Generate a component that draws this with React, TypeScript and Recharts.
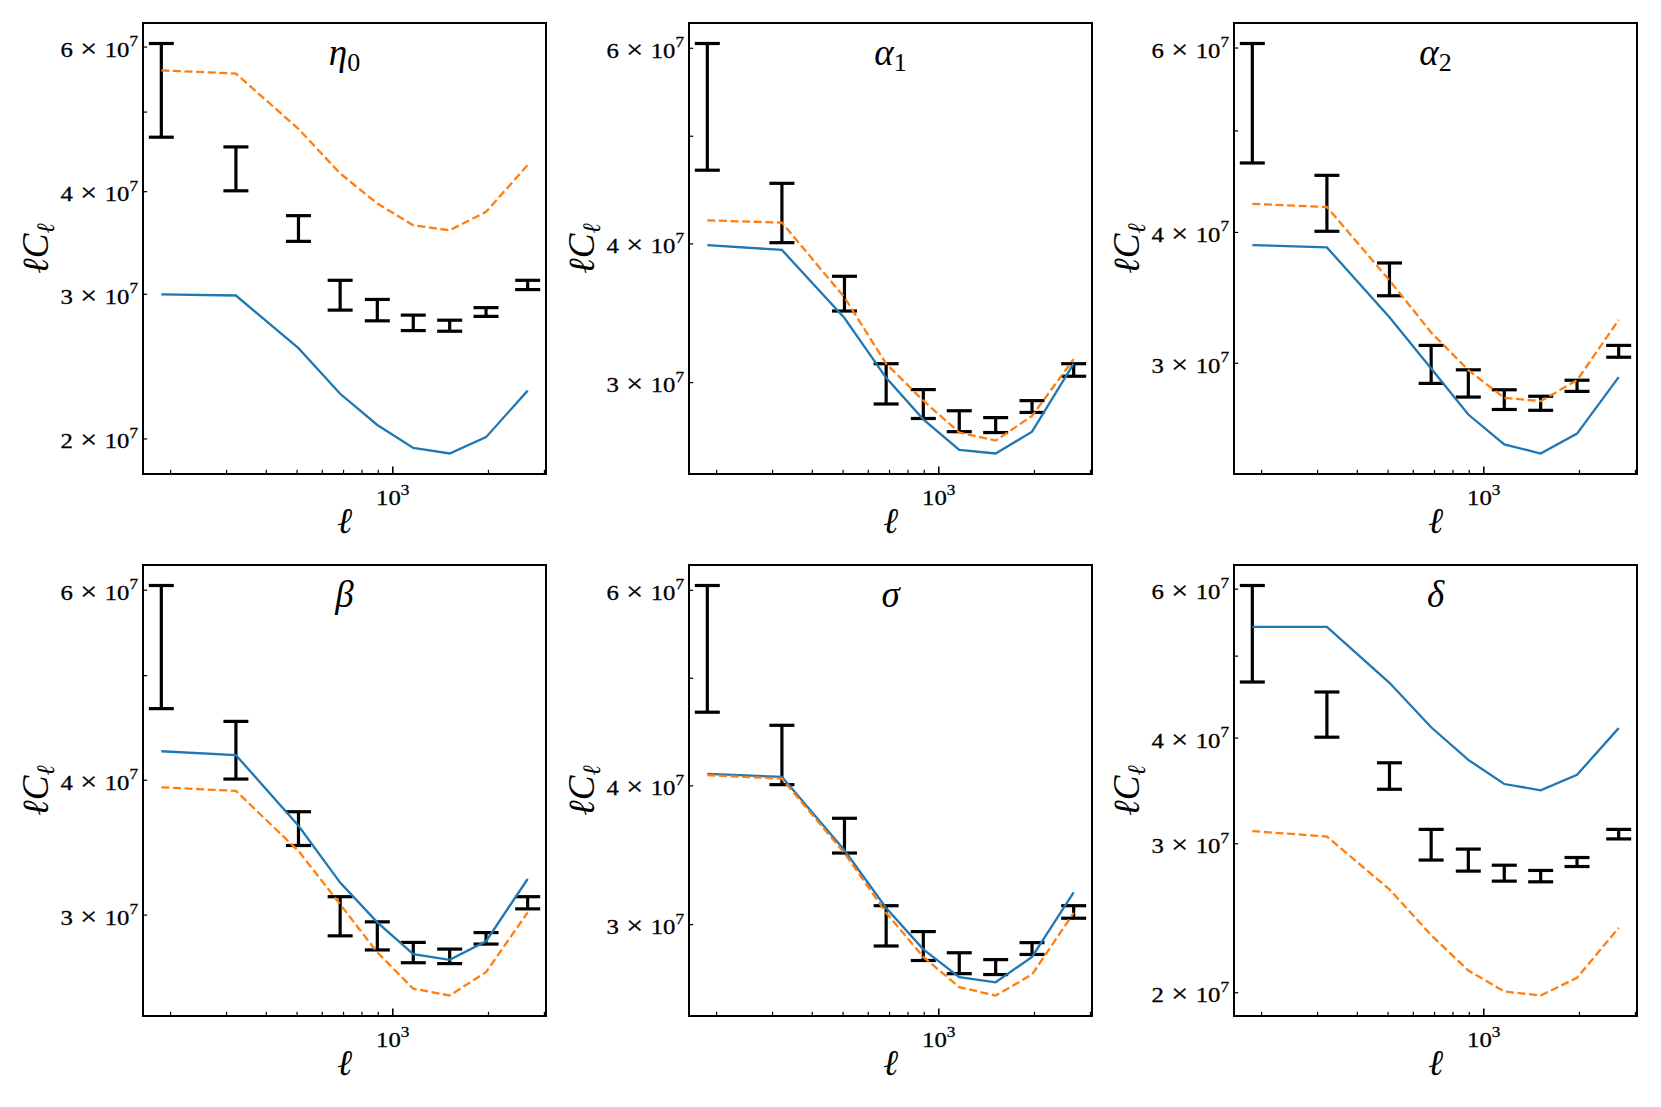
import React from 'react';
import { ComposedChart, Line, XAxis, YAxis, ErrorBar, ReferenceArea, Label } from 'recharts';

// multipole bin centres
const ELL = [187, 321, 505, 683, 894, 1160, 1510, 1965, 2657];
// measured band powers (error bar low / high ends)
const DATA_LOW = [4.66e7, 4.01e7, 3.48e7, 2.87e7, 2.785e7, 2.71e7, 2.705e7, 2.82e7, 3.04e7];
const DATA_HIGH = [6.06e7, 4.535e7, 3.74e7, 3.12e7, 2.957e7, 2.83e7, 2.79e7, 2.89e7, 3.12e7];

// model curves per parameter: blue (solid) and orange (dashed)
const ETA0_BLUE = [3.0e7, 2.99e7, 2.58e7, 2.27e7, 2.08e7, 1.95e7, 1.92e7, 2.01e7, 2.29e7];
const ETA0_ORANGE = [5.62e7, 5.57e7, 4.77e7, 4.21e7, 3.87e7, 3.64e7, 3.59e7, 3.78e7, 4.31e7];
const ALPHA1_BLUE = [3.99e7, 3.95e7, 3.43e7, 3.03e7, 2.78e7, 2.61e7, 2.59e7, 2.71e7, 3.12e7];
const ALPHA1_ORANGE = [4.2e7, 4.18e7, 3.58e7, 3.12e7, 2.89e7, 2.705e7, 2.66e7, 2.8e7, 3.15e7];
const ALPHA2_BLUE = [3.89e7, 3.87e7, 3.32e7, 2.966e7, 2.68e7, 2.51e7, 2.46e7, 2.57e7, 2.91e7];
const ALPHA2_ORANGE = [4.26e7, 4.23e7, 3.6e7, 3.21e7, 2.955e7, 2.78e7, 2.76e7, 2.89e7, 3.3e7];
const BETA_BLUE = [4.255e7, 4.22e7, 3.63e7, 3.215e7, 2.954e7, 2.76e7, 2.727e7, 2.837e7, 3.24e7];
const BETA_ORANGE = [3.94e7, 3.91e7, 3.44e7, 3.07e7, 2.77e7, 2.564e7, 2.527e7, 2.656e7, 3.017e7];
const SIGMA_BLUE = [4.1e7, 4.076e7, 3.5e7, 3.105e7, 2.85e7, 2.69e7, 2.662e7, 2.806e7, 3.207e7];
const SIGMA_ORANGE = [4.09e7, 4.06e7, 3.48e7, 3.074e7, 2.806e7, 2.635e7, 2.59e7, 2.705e7, 3.074e7];
const DELTA_BLUE = [5.415e7, 5.415e7, 4.65e7, 4.12e7, 3.77e7, 3.53e7, 3.47e7, 3.62e7, 4.11e7];
const DELTA_ORANGE = [3.105e7, 3.06e7, 2.65e7, 2.34e7, 2.125e7, 2.007e7, 1.985e7, 2.083e7, 2.387e7];

// ticks
const X_TICKS = [200, 300, 400, 500, 600, 700, 800, 900, 1000, 2000, 3000];
const X_MAJOR = 1000;
const Y_TICKS = [2e7, 3e7, 4e7, 5e7, 6e7];
const Y_TICK_MANTISSA: Record<number, string> = { 20000000: '2', 30000000: '3', 40000000: '4', 60000000: '6' };

const PANELS = [
  { title: 'η', sub: '0', blue: ETA0_BLUE, orange: ETA0_ORANGE },
  { title: 'α', sub: '1', blue: ALPHA1_BLUE, orange: ALPHA1_ORANGE },
  { title: 'α', sub: '2', blue: ALPHA2_BLUE, orange: ALPHA2_ORANGE },
  { title: 'β', sub: '', blue: BETA_BLUE, orange: BETA_ORANGE },
  { title: 'σ', sub: '', blue: SIGMA_BLUE, orange: SIGMA_ORANGE },
  { title: 'δ', sub: '', blue: DELTA_BLUE, orange: DELTA_ORANGE },
];

// layout
const COL_LEFT = [142.9, 688.5, 1234.3];
const ROW_TOP = [23.3, 564.6];
const PLOT_W = 403;
const PLOT_H = 451;
const Y_AXIS_W = 143;
const X_AXIS_H = 75;
const M_TOP = 20;
const M_RIGHT = 6;
const CHART_W = Y_AXIS_W + PLOT_W + M_RIGHT;
const CHART_H = M_TOP + PLOT_H + X_AXIS_H;

const SERIF = "'Liberation Serif', 'DejaVu Serif', 'Times New Roman', serif";
const BLUE = '#1f77b4';
const ORANGE = '#ff7f0e';
const TICK_STRETCH = 1.15;

function logDomain(values: number[], margin = 0.05): [number, number] {
  const lmin = Math.log10(Math.min(...values));
  const lmax = Math.log10(Math.max(...values));
  const pad = (lmax - lmin) * margin;
  return [Math.pow(10, lmin - pad), Math.pow(10, lmax + pad)];
}

const X_DOMAIN = logDomain(ELL);

const XTick = (props: any) => {
  const { x, y, payload } = props;
  const major = payload.value === X_MAJOR;
  return (
    <g>
      <line x1={x} x2={x} y1={y} y2={y - (major ? 7.5 : 4.2)} stroke="#000" strokeWidth={major ? 1.6 : 1.2} />
      {major && (
        <text
          transform={`translate(${x}, ${y + 31}) scale(${TICK_STRETCH}, 1)`}
          x={0}
          y={0}
          textAnchor="middle"
          fontFamily={SERIF}
          fontSize={21.5}
          fill="#000"
          stroke="#000"
          strokeWidth={0.3}
        >
          10
          <tspan dy={-10.5} fontSize={15}>3</tspan>
        </text>
      )}
    </g>
  );
};

const YTick = (props: any) => {
  const { x, y, payload } = props;
  const m = Y_TICK_MANTISSA[Math.round(payload.value)];
  return (
    <g>
      <line x1={x} x2={x + 4.2} y1={y} y2={y} stroke="#000" strokeWidth={1.2} />
      {m && (
        <text
          transform={`translate(${x - 5}, ${y + 9.5}) scale(${TICK_STRETCH}, 1)`}
          x={0}
          y={0}
          textAnchor="end"
          fontFamily={SERIF}
          fontSize={21.5}
          fill="#000"
          stroke="#000"
          strokeWidth={0.3}
        >
          {m}
          <tspan fontSize={26}> × </tspan>
          10
          <tspan dy={-10.5} fontSize={15}>7</tspan>
        </text>
      )}
    </g>
  );
};

const XLabel = (props: any) => {
  const { x, y, width } = props.viewBox;
  return (
    <text x={x + width / 2} y={y + 59} textAnchor="middle" fontFamily={SERIF} fontSize={36} fontStyle="italic" fill="#000">
      ℓ
    </text>
  );
};

const YLabel = (props: any) => {
  const { x, y, width, height } = props.viewBox;
  const cx = x + width - 95;
  const cy = y + height / 2;
  return (
    <text
      x={cx}
      y={cy}
      transform={`rotate(-90, ${cx}, ${cy})`}
      textAnchor="middle"
      fontFamily={SERIF}
      fontSize={37}
      fontStyle="italic"
      fill="#000"
    >
      ℓC
      <tspan dy={6} fontSize={25}>ℓ</tspan>
    </text>
  );
};

const makeTitle = (main: string, sub: string) => (props: any) => {
  const { x, y, width } = props.viewBox;
  return (
    <text x={x + width / 2} y={y + 42} textAnchor="middle" fontFamily={SERIF} fontSize={37} fontStyle="italic" fill="#000">
      {main}
      {sub && (
        <tspan dy={6} fontSize={26} fontStyle="normal">
          {sub}
        </tspan>
      )}
    </text>
  );
};

function Panel({ idx }: { idx: number }) {
  const p = PANELS[idx];
  const left = COL_LEFT[idx % 3];
  const top = ROW_TOP[Math.floor(idx / 3)];
  const rows = ELL.map((l, i) => {
    const mid = Math.sqrt(DATA_LOW[i] * DATA_HIGH[i]);
    return { l, blue: p.blue[i], orange: p.orange[i], mid, err: [mid - DATA_LOW[i], DATA_HIGH[i] - mid] };
  });
  const yDomain = logDomain([...DATA_LOW, ...DATA_HIGH, ...p.blue, ...p.orange]);
  const yTicks = Y_TICKS.filter((t) => t >= yDomain[0] && t <= yDomain[1]);
  return (
    <div style={{ position: 'absolute', left: left - Y_AXIS_W, top: top - M_TOP }}>
      <ComposedChart width={CHART_W} height={CHART_H} data={rows} margin={{ top: M_TOP, right: M_RIGHT, bottom: 0, left: 0 }}>
        <XAxis
          dataKey="l"
          type="number"
          scale="log"
          domain={X_DOMAIN}
          allowDataOverflow
          ticks={X_TICKS}
          interval={0}
          tick={XTick}
          tickSize={0}
          tickMargin={0}
          tickLine={false}
          axisLine={false}
          height={X_AXIS_H}
        >
          <Label content={XLabel} />
        </XAxis>
        <YAxis
          type="number"
          scale="log"
          domain={yDomain}
          allowDataOverflow
          ticks={yTicks}
          interval={0}
          tick={YTick}
          tickSize={0}
          tickMargin={0}
          tickLine={false}
          axisLine={false}
          width={Y_AXIS_W}
        >
          <Label content={YLabel} />
        </YAxis>
        <Line dataKey="mid" stroke="none" dot={false} activeDot={false} isAnimationActive={false}>
          <ErrorBar dataKey="err" direction="y" width={12.5} stroke="#000" strokeWidth={3.2} isAnimationActive={false} />
        </Line>
        <Line dataKey="blue" type="linear" stroke={BLUE} strokeWidth={2.3} dot={false} activeDot={false} isAnimationActive={false} />
        <Line
          dataKey="orange"
          type="linear"
          stroke={ORANGE}
          strokeWidth={2.3}
          strokeDasharray="8 3.6"
          dot={false}
          activeDot={false}
          isAnimationActive={false}
        />
        <ReferenceArea
          x1={X_DOMAIN[0]}
          x2={X_DOMAIN[1]}
          y1={yDomain[0]}
          y2={yDomain[1]}
          fill="none"
          stroke="#000"
          strokeWidth={2}
          ifOverflow="visible"
        >
          <Label content={makeTitle(p.title, p.sub)} />
        </ReferenceArea>
      </ComposedChart>
    </div>
  );
}

export default function App() {
  return (
    <div style={{ position: 'absolute', left: 0, top: 0, width: 1661, height: 1107, background: '#fff', overflow: 'hidden' }}>
      {PANELS.map((_, i) => (
        <Panel key={i} idx={i} />
      ))}
    </div>
  );
}
